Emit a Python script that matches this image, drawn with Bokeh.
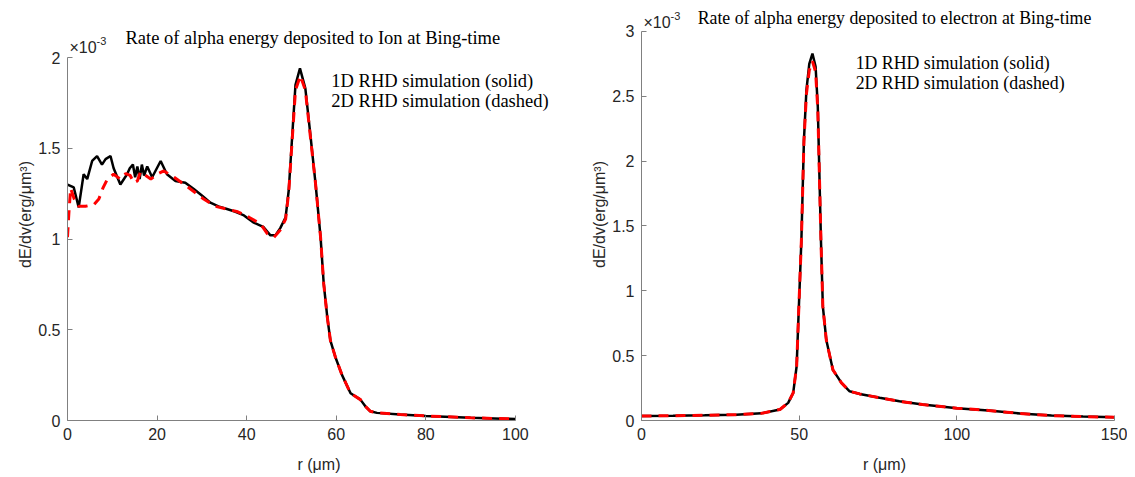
from bokeh.plotting import figure
from bokeh.layouts import row
from bokeh.models import Label, Range1d
from bokeh.embed import file_html
from bokeh.resources import INLINE

# ---- Left panel: alpha energy deposited to ion (values in units of 1e-3) ----
ion_r_1d = [0, 1.4, 2.5, 3.6, 4.4, 5.5, 6.6, 7.7, 8.5, 9.6, 10.3, 11.8, 13.3, 13.9, 14.6,
            15.1, 15.6, 16.1, 16.6, 17.1, 17.8, 18.9, 20.8, 22.2, 24.1, 26.3, 28.2, 30,
            31.9, 33.7, 35.6, 37.5, 39.4, 41.6, 43.8, 45.3, 46.4, 47.5, 48.7, 49.4, 50.2,
            50.9, 51.9, 53.1, 54.2, 55.4, 56.5, 57.2, 58.0, 58.7, 59.8, 61.3, 63.2, 65.4,
            66.5, 67.6, 69.1, 74.3, 80, 90, 100]
ion_v_1d = [1.30, 1.284, 1.174, 1.357, 1.33, 1.43, 1.457, 1.41, 1.44, 1.457, 1.39, 1.30,
            1.357, 1.39, 1.41, 1.34, 1.40, 1.33, 1.41, 1.35, 1.40, 1.34, 1.43, 1.357, 1.32,
            1.31, 1.275, 1.24, 1.20, 1.18, 1.165, 1.15, 1.13, 1.09, 1.065, 1.02, 1.02, 1.06,
            1.12, 1.27, 1.58, 1.85, 1.94, 1.83, 1.58, 1.30, 1.01, 0.755, 0.57, 0.44, 0.35,
            0.25, 0.15, 0.115, 0.078, 0.051, 0.042, 0.033, 0.025, 0.015, 0.008]

ion_r_2d = [0, 0.3, 0.7, 1.5, 2.5, 4, 5.9, 7.0, 7.9, 8.9, 10.3, 11.8, 13.0, 14.0, 14.8,
            15.6, 16.3, 17.1, 18.6, 20, 21.5, 23.8, 26.7, 30.4, 33, 35.6, 38, 40.5, 43.1,
            44.6, 46.1, 47.5, 48.7, 49.4, 50.2, 50.9, 52.0, 53.1, 54.2, 55.4, 56.5, 57.2,
            58.0, 58.7, 59.8, 61.3, 63.2, 65.4, 66.5, 67.6, 69.1, 74.3, 80, 90, 100]
ion_v_2d = [1.01, 1.14, 1.28, 1.22, 1.18, 1.18, 1.19, 1.22, 1.28, 1.33, 1.357, 1.33, 1.36,
            1.35, 1.31, 1.32, 1.37, 1.357, 1.33, 1.357, 1.375, 1.34, 1.29, 1.22, 1.18, 1.165,
            1.15, 1.12, 1.083, 1.03, 1.01, 1.05, 1.11, 1.26, 1.56, 1.82, 1.90, 1.82, 1.57,
            1.30, 1.01, 0.755, 0.57, 0.44, 0.35, 0.25, 0.15, 0.115, 0.078, 0.051, 0.042,
            0.033, 0.025, 0.015, 0.008]

# ---- Right panel: alpha energy deposited to electron (values in units of 1e-3) ----
ele_r = [0, 10, 20, 30, 38, 43.9, 46.5, 48.1, 49.2, 49.9, 50.7, 51.5, 52.3, 53.2, 54.2,
         55.2, 55.9, 56.4, 56.9, 57.5, 58.6, 60.7, 63.4, 66, 69.2, 75.5, 81.8, 89.1, 94.3,
         100, 110, 120, 130, 140, 150]
ele_v_1d = [0.035, 0.037, 0.04, 0.045, 0.055, 0.085, 0.136, 0.213, 0.42, 0.88, 1.39, 2.16,
            2.55, 2.75, 2.83, 2.73, 2.42, 1.905, 1.39, 0.88, 0.62, 0.39, 0.29, 0.225, 0.205,
            0.175, 0.148, 0.123, 0.11, 0.095, 0.077, 0.054, 0.038, 0.03, 0.025]
ele_v_2d = [0.035, 0.037, 0.04, 0.045, 0.055, 0.085, 0.136, 0.213, 0.42, 0.88, 1.39, 2.15,
            2.52, 2.70, 2.77, 2.69, 2.40, 1.90, 1.39, 0.88, 0.62, 0.39, 0.29, 0.225, 0.205,
            0.175, 0.148, 0.123, 0.11, 0.095, 0.077, 0.054, 0.038, 0.03, 0.025]

ion_xticks = [0, 20, 40, 60, 80, 100]
ion_yticks = [0, 0.5, 1, 1.5, 2]
ele_xticks = [0, 50, 100, 150]
ele_yticks = [0, 0.5, 1, 1.5, 2, 2.5, 3]

ion_title = "Rate of alpha energy deposited to Ion at Bing-time"
ele_title = "Rate of alpha energy deposited to electron at Bing-time"
legend_1d = "1D RHD simulation (solid)"
legend_2d = "2D RHD simulation (dashed)"

SANS = "Liberation Sans"
SERIF = "Liberation Serif"
TXT = "#262626"
AX = "#808080"


def style(p, xticks, yticks, xb, yb):
    p.outline_line_color = None
    p.xgrid.visible = False
    p.ygrid.visible = False
    for ax in (p.xaxis[0], p.yaxis[0]):
        ax.axis_line_color = AX
        ax.axis_line_width = 1
        ax.major_tick_line_color = AX
        ax.major_tick_in = 5
        ax.major_tick_out = 0
        ax.minor_tick_line_color = None
        ax.major_label_text_font = SANS
        ax.major_label_text_font_size = "16px"
        ax.major_label_text_color = TXT
        ax.axis_label_text_font = SANS
        ax.axis_label_text_font_size = "16px"
        ax.axis_label_text_font_style = "normal"
        ax.axis_label_text_color = TXT
    p.xaxis.ticker = xticks
    p.yaxis.ticker = yticks
    p.xaxis.bounds = xb
    p.yaxis.bounds = yb
    p.xaxis.major_label_standoff = 7
    p.yaxis.major_label_standoff = 7
    p.xaxis.axis_label = "r (μm)"
    p.yaxis.axis_label = "dE/dv(erg/μm³)"
    p.xaxis.axis_label_standoff = 13
    p.yaxis.axis_label_standoff = 1


def add_texts(p, x_exp, y_exp, x_title, y_title, title, x_leg, y_leg1, y_leg2, fs):
    p.add_layout(Label(x=x_exp, y=y_exp, text="×10", text_font=SANS, text_font_size="16px",
                       text_color=TXT, text_baseline="middle"))
    p.add_layout(Label(x=x_exp, y=y_exp, x_offset=27, y_offset=7, text="-3",
                       text_font=SANS, text_font_size="11px", text_color=TXT,
                       text_baseline="middle"))
    p.add_layout(Label(x=x_title, y=y_title, text=title, text_font=SERIF,
                       text_font_size=fs, text_color="#000000", text_baseline="middle"))
    p.add_layout(Label(x=x_leg, y=y_leg1, text=legend_1d, text_font=SERIF,
                       text_font_size=fs, text_color="#000000", text_baseline="middle"))
    p.add_layout(Label(x=x_leg, y=y_leg2, text=legend_2d, text_font=SERIF,
                       text_font_size=fs, text_color="#000000", text_baseline="middle"))


# Left figure (frame extended past the data so the texts are not clipped)
p1 = figure(frame_width=503, frame_height=412, output_backend="svg", toolbar_location=None,
            x_range=Range1d(0, 112.3), y_range=Range1d(0, 2.270),
            min_border_left=67, min_border_right=0, min_border_top=8, min_border_bottom=0)
style(p1, ion_xticks, ion_yticks, (0, 100), (0, 2))
p1.line(ion_r_1d, ion_v_1d, line_color="black", line_width=2.5)
p1.line(ion_r_2d, ion_v_2d, line_color="#ff0000", line_width=3, line_dash="10 7")
add_texts(p1, 0.45, 2.055, 12.95, 2.105, ion_title, 58.9, 1.873, 1.758, "18.5px")

# Right figure
p2 = figure(frame_width=486, frame_height=412, output_backend="svg", toolbar_location=None,
            x_range=Range1d(0, 154.1), y_range=Range1d(0, 3.177),
            min_border_left=71, min_border_right=0, min_border_top=8, min_border_bottom=0)
style(p2, ele_xticks, ele_yticks, (0, 150), (0, 3))
p2.line(ele_r, ele_v_1d, line_color="black", line_width=2.5)
p2.line(ele_r, ele_v_2d, line_color="#ff0000", line_width=3, line_dash="10 7")
add_texts(p2, 0.63, 3.069, 17.8, 3.10, ele_title, 67.9, 2.753, 2.599, "17.8px")

layout = row(p1, p2)
open("out.html", "w").write(file_html(layout, INLINE))
